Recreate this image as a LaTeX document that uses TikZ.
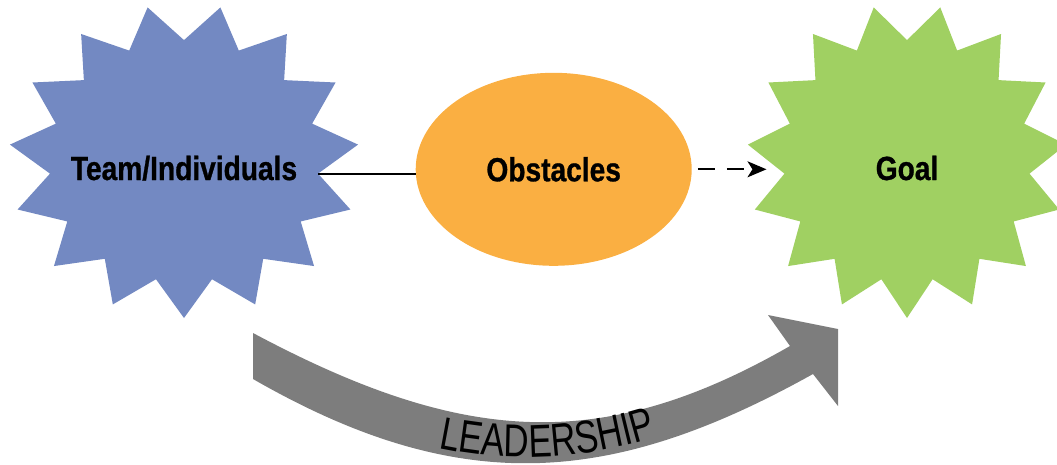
\documentclass[tikz,border=0pt]{standalone}
\usepackage{fontspec}
\setmainfont{Liberation Sans}
\newfontfamily\narrowfont[FakeStretch=0.84,BoldFeatures={FakeBold=0.8}]{Liberation Sans}
\newfontfamily\bandfont[FakeStretch=0.76]{Liberation Sans}
\usetikzlibrary{arrows.meta,shapes.geometric,decorations.text}

\definecolor{teamblue}{HTML}{7389C2}
\definecolor{goalgreen}{HTML}{A0D062}
\definecolor{obstorange}{HTML}{FAAF42}
\definecolor{bandgray}{HTML}{7D7D7D}

% burst star: #1 name, #2 centre, #3 x radius, #4 y radius, #5 fill, #6 inner ratio
\newcommand\burst[6]{%
  \fill[#5,shift={#2}] (0,#4)
    \foreach \k [evaluate=\k as \rad using {mod(\k,2)==0 ? 1 : #6}] in {1,...,29}
      { -- ({\rad*#3*cos(90+12*\k)},{\rad*#4*sin(90+12*\k)}) } -- cycle;
  \path[shift={#2}]
    ({#6*#3*cos(6)},{#6*#4*sin(6)}) coordinate (#1-e)
    ({#6*#3*cos(174)},{#6*#4*sin(174)}) coordinate (#1-w);
}

\begin{document}
\begin{tikzpicture}[
    x=1pt, y=-1pt,
    lbl/.style  = {font=\narrowfont\bfseries\fontsize{33.5}{36}\selectfont, inner sep=0pt},
    link/.style = {line width=1.8pt},
    flow/.style = {line width=1.8pt, dash pattern=on 17pt off 12pt,
                   -{Stealth[length=19pt,width=16pt,inset=5pt]}},
    band/.style = {fill=bandgray},
]
\useasboundingbox (0,0) rectangle (1057,464);

\burst{teamstar}{(184,161)}{175}{157}{teamblue}{0.77}
\burst{goalstar}{(907,161)}{160}{157}{goalgreen}{0.77}

\node [lbl, anchor=base] (team) at (184,180) {Team/Individuals};
\node [lbl, anchor=base] (goal) at (907,180) {Goal};
\node [lbl, ellipse, fill=obstorange, minimum width=276pt, minimum height=193pt]
  (obst) at (553.7,169.3) {Obstacles};

\draw [link] (teamstar-e) -- (teamstar-e -| obst.west);
\draw [flow] ([xshift=6pt]obst.east) -- ([xshift=-18pt]goalstar-w |- obst.east);

% leadership arrow under the three shapes
\fill [band] (253,333) .. controls (463,445) and (602,454) .. (790,346)
  -- (768,315) -- (838,329) -- (838,406) -- (813,374)
  .. controls (612,486) and (460,498) .. (253,379) -- cycle;
\path [decorate, decoration={text along path,
    text={|\bandfont\fontsize{46}{50}\selectfont|LEADERSHIP},
    text align={center, left indent=30pt}}]
  (253,373) .. controls (460,492) and (612,480) .. (813,368);
\end{tikzpicture}
\end{document}
